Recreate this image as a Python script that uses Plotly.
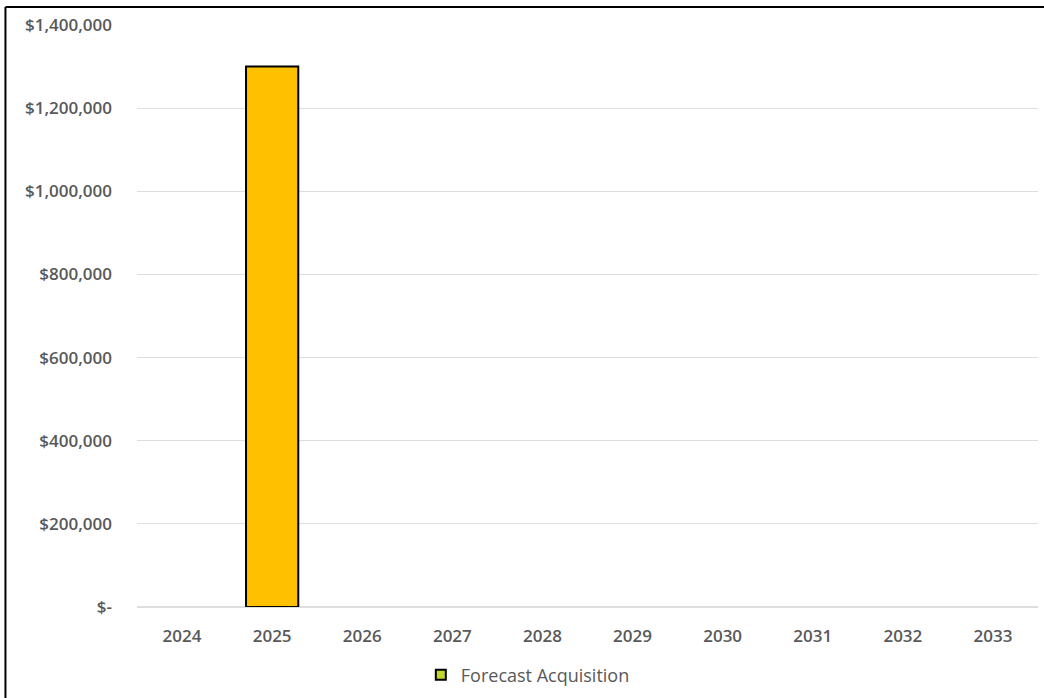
import plotly.graph_objects as go

# Forecast acquisition spend by year (None = no spend planned)
years = ["2024", "2025", "2026", "2027", "2028", "2029", "2030", "2031", "2032", "2033"]
forecast_acquisition = [None, 1300000, None, None, None, None, None, None, None, None]

y_tick_values = [0, 200000, 400000, 600000, 800000, 1000000, 1200000, 1400000]
y_tick_labels = ["$-", "$200,000", "$400,000", "$600,000", "$800,000",
                 "$1,000,000", "$1,200,000", "$1,400,000"]

BAR_COLOR = "#FFC000"
LEGEND_SWATCH = "#C2D62E"
TEXT_COLOR = "#595959"
TICK_FONT = dict(family="Open Sans", size=17, color=TEXT_COLOR, weight=600)

fig = go.Figure()

fig.add_trace(go.Bar(
    x=years,
    y=forecast_acquisition,
    name="Forecast Acquisition",
    marker=dict(color=BAR_COLOR, line=dict(color="#000000", width=2)),
    showlegend=False,
))

# legend swatch for the series
fig.add_trace(go.Scatter(
    x=[None], y=[None],
    mode="markers",
    name="Forecast Acquisition",
    marker=dict(symbol="square", size=10, color=LEGEND_SWATCH,
                line=dict(color="#000000", width=2)),
))

# frame edges along the top and left of the chart
frame = dict(type="line", xref="paper", yref="paper",
             line=dict(color="#000000", width=2), layer="above")

fig.update_layout(
    width=1044,
    height=698,
    margin=dict(l=137, r=6, t=25, b=90),
    paper_bgcolor="#FFFFFF",
    plot_bgcolor="#FFFFFF",
    bargap=0.42,
    font=dict(family="Open Sans", color=TEXT_COLOR, size=14),
    legend=dict(
        orientation="h",
        x=0.315, xanchor="left",
        y=-0.115, yanchor="middle",
        font=dict(size=18, color=TEXT_COLOR),
        itemwidth=30,
    ),
    shapes=[
        dict(frame, x0=-0.146, x1=1.2, y0=1.031, y1=1.031),
        dict(frame, x0=-0.146, x1=-0.146, y0=-0.4, y1=1.031),
    ],
)

fig.update_xaxes(
    type="category",
    showgrid=False,
    showline=False,
    zeroline=False,
    ticks="",
    tickfont=TICK_FONT,
    ticklabelstandoff=17,
)

fig.update_yaxes(
    range=[0, 1400000],
    tickvals=y_tick_values,
    ticktext=y_tick_labels,
    showgrid=True,
    gridcolor="#DEDEDE",
    gridwidth=1,
    zeroline=True,
    zerolinecolor="#DEDEDE",
    showline=False,
    ticks="",
    tickfont=TICK_FONT,
    ticklabelstandoff=24,
)

fig.write_html("out.html")
